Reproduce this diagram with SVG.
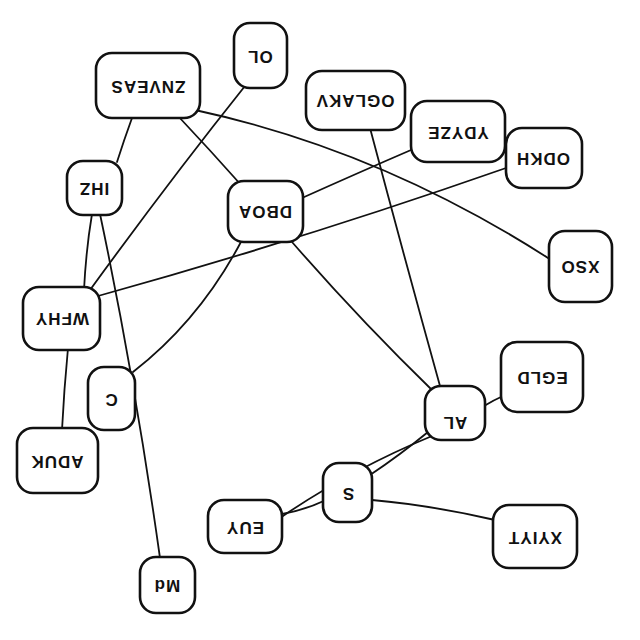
<svg xmlns="http://www.w3.org/2000/svg" width="640" height="640" viewBox="0 0 640 640">
<style>
.e{fill:none;stroke:#111;stroke-width:1.8;stroke-linecap:round}
.n rect{fill:#fff;stroke:#111;stroke-width:2.6}
.n text{font-family:"Liberation Sans","DejaVu Sans",sans-serif;font-size:17px;font-weight:bold;fill:#111;text-anchor:middle;dominant-baseline:central;letter-spacing:1px}
</style>
<rect width="640" height="640" fill="#fff"/>
<g id="edges">
<path class="e" d="M195,110 Q380,150 548,258"/>
<path class="e" d="M178,116 Q210,150 242,186"/>
<path class="e" d="M132,118 Q124,140 117,162"/>
<path class="e" d="M245,86 Q170,180 90,290"/>
<path class="e" d="M92,214 Q86,250 84,290"/>
<path class="e" d="M100,214 Q135,380 160,558"/>
<path class="e" d="M242,240 Q200,320 133,372"/>
<path class="e" d="M292,242 Q360,320 432,390"/>
<path class="e" d="M302,198 Q360,172 411,150"/>
<path class="e" d="M98,296 Q300,240 506,168"/>
<path class="e" d="M68,348 Q64,390 62,430"/>
<path class="e" d="M370,128 Q405,260 440,386"/>
<path class="e" d="M503,396 Q494,400 484,406"/>
<path class="e" d="M428,432 Q400,455 370,475"/>
<path class="e" d="M432,436 Q350,470 280,518"/>
<path class="e" d="M326,500 Q305,510 282,514"/>
<path class="e" d="M372,500 Q430,505 495,520"/>
</g>
<g id="ZNVEAS" class="n"><rect x="96" y="53" width="104" height="65" rx="16"/><text transform="rotate(180 148 86)" x="148" y="86">ZNVEAS</text></g>
<g id="OL" class="n"><rect x="234" y="23" width="53" height="65" rx="16"/><text transform="rotate(180 260 56)" x="260" y="56">OL</text></g>
<g id="OGLAKV" class="n"><rect x="306" y="71" width="99" height="59" rx="16"/><text transform="rotate(180 355 100)" x="355" y="100">OGLAKV</text></g>
<g id="YDYZE" class="n"><rect x="411" y="101" width="94" height="61" rx="16"/><text transform="rotate(180 458 132)" x="458" y="132">YDYZE</text></g>
<g id="ODKH" class="n"><rect x="506" y="128" width="76" height="60" rx="16"/><text transform="rotate(180 543 158)" x="543" y="158">ODKH</text></g>
<g id="IHZ" class="n"><rect x="67" y="161" width="55" height="54" rx="16"/><text transform="rotate(180 94 188)" x="94" y="188">IHZ</text></g>
<g id="DBOA" class="n"><rect x="228" y="181" width="75" height="61" rx="16"/><text transform="rotate(180 265 211)" x="265" y="211">DBOA</text></g>
<g id="XSO" class="n"><rect x="549" y="231" width="63" height="71" rx="16"/><text transform="rotate(180 580 266)" x="580" y="266">XSO</text></g>
<g id="MFHY" class="n"><rect x="23" y="287" width="77" height="63" rx="16"/><text transform="rotate(180 62 318)" x="62" y="318">WFHY</text></g>
<g id="C" class="n"><rect x="88" y="367" width="47" height="63" rx="16"/><text transform="rotate(180 111 399)" x="111" y="399">C</text></g>
<g id="ADUK" class="n"><rect x="17" y="428" width="81" height="65" rx="16"/><text transform="rotate(180 57 461)" x="57" y="461">ADUK</text></g>
<g id="EGLD" class="n"><rect x="501" y="342" width="82" height="70" rx="16"/><text transform="rotate(180 542 377)" x="542" y="377">EGLD</text></g>
<g id="AL" class="n"><rect x="425" y="386" width="60" height="54" rx="16"/><text transform="rotate(180 455 422)" x="455" y="422">AL</text></g>
<g id="S" class="n"><rect x="323" y="463" width="49" height="59" rx="16"/><text transform="rotate(180 348 493)" x="348" y="493">S</text></g>
<g id="EUY" class="n"><rect x="208" y="500" width="74" height="53" rx="16"/><text transform="rotate(180 245 527)" x="245" y="527">EUY</text></g>
<g id="XYIYT" class="n"><rect x="493" y="505" width="84" height="63" rx="16"/><text transform="rotate(180 535 537)" x="535" y="537">XYIYT</text></g>
<g id="Md" class="n"><rect x="140" y="557" width="55" height="56" rx="16"/><text transform="rotate(180 167 585)" x="167" y="585">Md</text></g>
</svg>
